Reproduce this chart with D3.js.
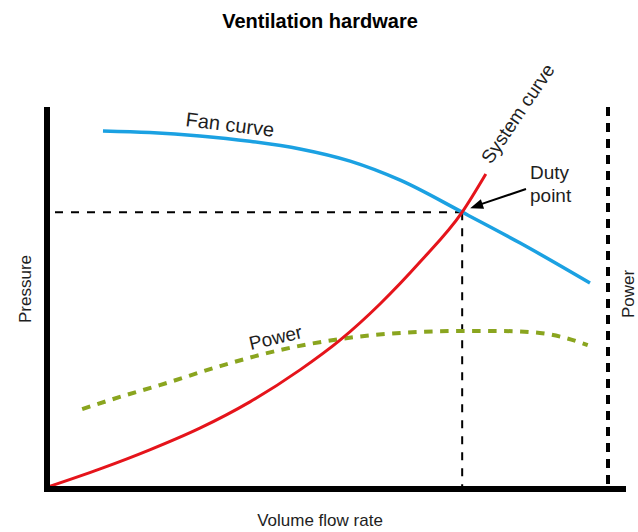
<!DOCTYPE html>
<html>
<head>
<meta charset="utf-8">
<script src="https://cdn.jsdelivr.net/npm/d3@7"></script>
<style>
  body { margin: 0; background: #fff; }
  text { font-family: "Liberation Sans", Arial, sans-serif; fill: #1e1e1e; }
</style>
</head>
<body>
<svg id="chart"></svg>
<script>
// values, in relative units (0-100 on both axes)
const fanFlow      = [10.3, 18.6, 27.5, 36.4, 45.3, 54.2, 63.1, 74.1, 84.4, 96.8];
const fanPressure  = [93.7, 93.3, 92.4, 91.0, 89.0, 85.8, 80.8, 72.4, 64.3, 53.8];

const sysFlow      = [0, 9.8, 18.6, 27.5, 36.4, 45.3, 52.4, 59.5, 66.6, 74.1, 78.3];
const sysPressure  = [0, 5.0, 10.0, 15.7, 22.6, 31.0, 38.8, 48.3, 59.3, 72.4, 82.4];

const powerFlow    = [6.6, 13.3, 20.4, 31.1, 41.7, 52.4, 63.1, 73.7, 80.8, 87.9, 92.4, 96.4];
const powerValue   = [20.7, 23.9, 27.0, 32.0, 36.2, 39.1, 40.7, 41.2, 41.2, 40.7, 39.4, 37.5];

const dutyPoint = [74.1, 72.4];

const width = 638, height = 532;

const svg = d3.select("#chart")
    .attr("width", width)
    .attr("height", height);

const x = d3.scaleLinear().domain([0, 100]).range([45, 608]);
const y = d3.scaleLinear().domain([0, 100]).range([488, 107]);

const line = d3.line()
    .x(d => x(d[0]))
    .y(d => y(d[1]))
    .curve(d3.curveMonotoneX);

// title
svg.append("text")
    .attr("x", 320).attr("y", 28)
    .attr("text-anchor", "middle")
    .style("font-size", "20px")
    .style("font-weight", "bold")
    .style("fill", "#000")
    .text("Ventilation hardware");

// duty point guides
svg.append("line")
    .attr("x1", 55).attr("x2", x(dutyPoint[0]))
    .attr("y1", y(dutyPoint[1])).attr("y2", y(dutyPoint[1]))
    .attr("stroke", "#000").attr("stroke-width", 2)
    .attr("stroke-dasharray", "8,8");

svg.append("line")
    .attr("x1", x(dutyPoint[0])).attr("x2", x(dutyPoint[0]))
    .attr("y1", y(dutyPoint[1])).attr("y2", y(0))
    .attr("stroke", "#000").attr("stroke-width", 2)
    .attr("stroke-dasharray", "8,8");

// right (power) axis, dashed
svg.append("line")
    .attr("x1", x(100)).attr("x2", x(100))
    .attr("y1", y(100)).attr("y2", y(0))
    .attr("stroke", "#000").attr("stroke-width", 4)
    .attr("stroke-dasharray", "9,7");

// curves
svg.append("path")
    .datum(d3.zip(powerFlow, powerValue))
    .attr("d", line)
    .attr("fill", "none")
    .attr("stroke", "#8aa51f")
    .attr("stroke-width", 4)
    .attr("stroke-dasharray", "8.5,7.5");

svg.append("path")
    .datum(d3.zip(fanFlow, fanPressure))
    .attr("d", line)
    .attr("fill", "none")
    .attr("stroke", "#1ba1e2")
    .attr("stroke-width", 3.5);

svg.append("path")
    .datum(d3.zip(sysFlow, sysPressure))
    .attr("d", line)
    .attr("fill", "none")
    .attr("stroke", "#e5141b")
    .attr("stroke-width", 3);

// main axes
svg.append("line")
    .attr("x1", 47).attr("x2", 47)
    .attr("y1", y(100)).attr("y2", 492)
    .attr("stroke", "#000").attr("stroke-width", 6);

svg.append("line")
    .attr("x1", 44).attr("x2", 626)
    .attr("y1", 489).attr("y2", 489)
    .attr("stroke", "#000").attr("stroke-width", 6);

// arrow to the duty point
const tipX = x(dutyPoint[0]) + 8, tipY = y(dutyPoint[1]) - 4;
svg.append("line")
    .attr("x1", 526).attr("y1", 189)
    .attr("x2", tipX + 8).attr("y2", tipY - 3)
    .attr("stroke", "#000").attr("stroke-width", 2);
const ang = Math.atan2(189 - tipY, 526 - tipX);
const hl = 13, hw = 5;
const bx = tipX + hl * Math.cos(ang), by = tipY + hl * Math.sin(ang);
svg.append("path")
    .attr("d", `M${tipX},${tipY}L${bx + hw * Math.sin(ang)},${by - hw * Math.cos(ang)}L${bx - hw * Math.sin(ang)},${by + hw * Math.cos(ang)}Z`)
    .attr("fill", "#000");

// labels
svg.append("text")
    .attr("transform", "translate(185,126) rotate(7)")
    .style("font-size", "20px")
    .text("Fan curve");

svg.append("text")
    .attr("transform", "translate(491,165) rotate(-56)")
    .style("font-size", "19px")
    .text("System curve");

svg.append("text")
    .attr("transform", "translate(277,344) rotate(-13)")
    .attr("text-anchor", "middle")
    .style("font-size", "19px")
    .text("Power");

svg.append("text")
    .attr("x", 530).attr("y", 179)
    .style("font-size", "19px")
    .text("Duty");
svg.append("text")
    .attr("x", 530).attr("y", 202)
    .style("font-size", "19px")
    .text("point");

// axis titles
svg.append("text")
    .attr("transform", "translate(31,289) rotate(-90)")
    .attr("text-anchor", "middle")
    .style("font-size", "17px")
    .text("Pressure");

svg.append("text")
    .attr("transform", "translate(634,294) rotate(-90)")
    .attr("text-anchor", "middle")
    .style("font-size", "17px")
    .text("Power");

svg.append("text")
    .attr("x", 320).attr("y", 526)
    .attr("text-anchor", "middle")
    .style("font-size", "17px")
    .text("Volume flow rate");
</script>
</body>
</html>
